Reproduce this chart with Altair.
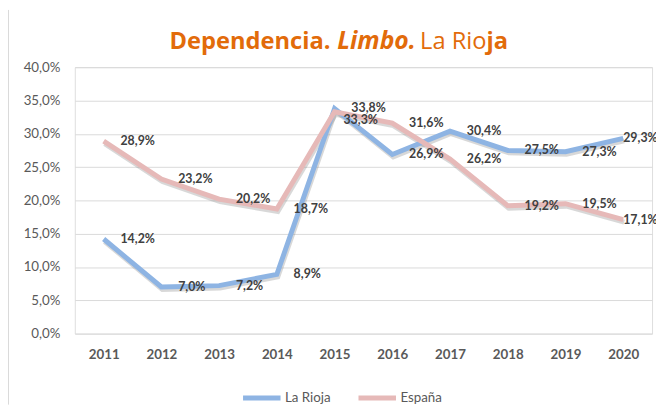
import altair as alt
import pandas as pd

years = ["2011", "2012", "2013", "2014", "2015", "2016", "2017", "2018", "2019", "2020"]
la_rioja = [14.2, 7.0, 7.2, 8.9, 33.8, 26.9, 30.4, 27.5, 27.3, 29.3]
espana = [28.9, 23.2, 20.2, 18.7, 33.3, 31.6, 26.2, 19.2, 19.5, 17.1]
series_names = ["La Rioja", "España"]
series_colors = ["#8EB4E3", "#E6B9B8"]
y_ticks = [0, 5, 10, 15, 20, 25, 30, 35, 40]

rows = []
for name, vals in zip(series_names, [la_rioja, espana]):
    for yr, v in zip(years, vals):
        rows.append({"year": yr, "value": v, "serie": name})
df = pd.DataFrame(rows)

W, H = 585, 270
FONT = "Lato"

x_enc = alt.X("year:N", sort=years, scale=alt.Scale(type="point", padding=0.5),
              axis=alt.Axis(title=None, labelAngle=0, ticks=False, domain=False, grid=False,
                            labelFont=FONT, labelFontSize=13.5, labelFontWeight="bold",
                            labelColor="#595959", labelPadding=14))
y_enc = alt.Y("value:Q", scale=alt.Scale(domain=[0, 40], nice=False),
              axis=alt.Axis(title=None, values=y_ticks, ticks=False, domain=False,
                            gridColor="#D9D9D9", gridWidth=1,
                            labelFont=FONT, labelFontSize=13.5, labelColor="#595959",
                            labelPadding=15,
                            labelExpr="replace(format(datum.value, '.1f'), '.', ',') + '%'"))

base = alt.Chart(df)

shadow = base.mark_line(strokeWidth=5, color="#7F7F7F", opacity=0.3, xOffset=1, yOffset=2.5).encode(
    x=x_enc, y=y_enc, detail="serie:N", order=alt.Order("year:N")
)

lines = base.mark_line(strokeWidth=5).encode(
    x=x_enc, y=y_enc,
    color=alt.Color("serie:N", sort=series_names,
                    scale=alt.Scale(domain=series_names, range=series_colors),
                    legend=alt.Legend(title=None, orient="none", direction="horizontal",
                                      legendX=168, legendY=313.5,
                                      symbolType="stroke", symbolStrokeWidth=5, symbolSize=1444,
                                      labelFont=FONT, labelFontSize=13.5, labelColor="#595959",
                                      labelOffset=2, columnPadding=17)),
    order=alt.Order("year:N"),
)

label_text = "replace(format(datum.value, '.1f'), '.', ',') + '%'"
text_props = dict(font=FONT, fontSize=12.5, fontWeight="bold", color="#404040",
                  align="left", baseline="middle")

labels_main = base.transform_filter(
    "datum.year != '2020' && !(datum.year == '2015' && datum.serie == 'España')"
).transform_calculate(lab=label_text).mark_text(dx=17, **text_props).encode(
    x=x_enc, y=y_enc, text="lab:N"
)
labels_end = base.transform_filter("datum.year == '2020'").transform_calculate(
    lab=label_text).mark_text(dx=0, **text_props).encode(x=x_enc, y=y_enc, text="lab:N")
labels_2015 = base.transform_filter(
    "datum.year == '2015' && datum.serie == 'España'").transform_calculate(
    lab=label_text).mark_text(dx=9, dy=8, **text_props).encode(x=x_enc, y=y_enc, text="lab:N")

one = pd.DataFrame({"k": [0]})
TCOL = "#E26B0A"
TFONT = "Open Sans"
t1 = alt.Chart(one).mark_text(text="Dependencia.", font=TFONT, fontSize=24, fontWeight="bold",
                              color=TCOL, align="left", baseline="alphabetic").encode(
    x=alt.value(96), y=alt.value(-18.6))
t2 = alt.Chart(one).mark_text(text="Limbo.", font=TFONT, fontSize=25, fontWeight="bold",
                              fontStyle="italic", color=TCOL, align="left",
                              baseline="alphabetic").encode(x=alt.value(266), y=alt.value(-18.6))
t3 = alt.Chart(one).mark_text(text="La Rio", font=TFONT, fontSize=24, fontWeight="normal",
                              color=TCOL, align="right", baseline="alphabetic").encode(
    x=alt.value(417.3), y=alt.value(-18.6))
t4 = alt.Chart(one).mark_text(text="ja", font=TFONT, fontSize=24, fontWeight="bold",
                              color=TCOL, align="left", baseline="alphabetic").encode(
    x=alt.value(417.3), y=alt.value(-18.6))

border = alt.Chart(one).mark_rule(color="#D9D9D9", strokeWidth=1).encode(
    x=alt.value(-67.2), y=alt.value(-58), y2=alt.value(H + 72))

chart = alt.layer(
    border, shadow, lines, labels_main, labels_end, labels_2015, t1, t2, t3, t4
).properties(
    width=W, height=H,
    autosize=alt.AutoSizeParams(type="none"),
    padding={"left": 67.7, "top": 57.3, "right": 4, "bottom": 71},
).configure_view(stroke=None).configure(background="white")

chart.save("out.html", embed_options={"renderer": "svg", "actions": False})
